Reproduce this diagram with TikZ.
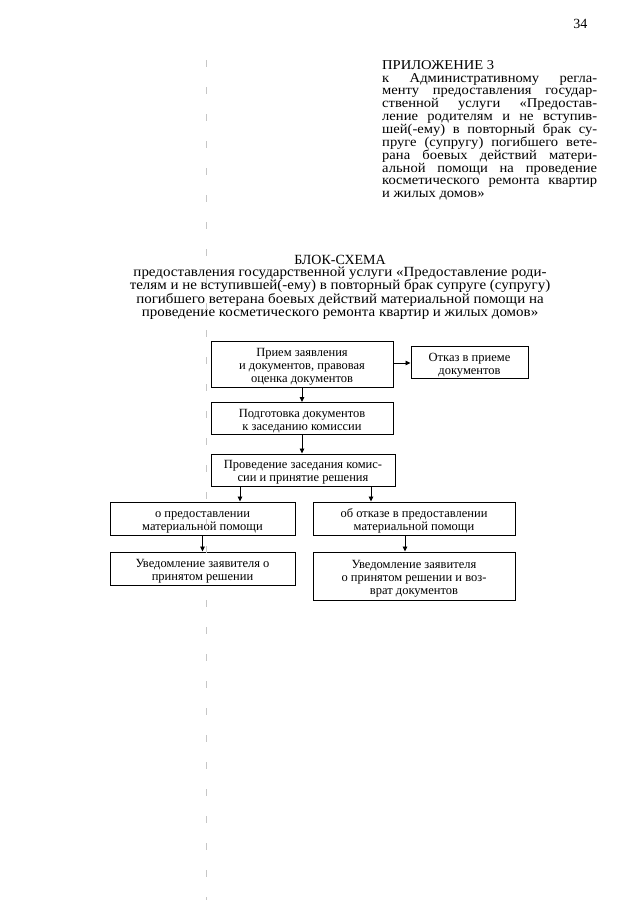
\documentclass[tikz,border=0pt]{standalone}
\usepackage{fontspec}
\setmainfont{Liberation Serif}
\newfontfamily\appfont[FakeStretch=1.08]{Liberation Serif}
\newfontfamily\subfont[FakeStretch=1.07]{Liberation Serif}
\usetikzlibrary{arrows.meta,calc}
\newcommand\topstrt{\rule{0pt}{11pt}}
\newcommand\boxtop{\rule{0pt}{13.5pt}}
\newcommand\boxbot{\rule[-3.5pt]{0pt}{3.5pt}}
\begin{document}
\lineskiplimit=-50pt\relax
\begin{tikzpicture}[x=1pt,y=-1pt,
  box/.style={draw,line width=1pt,align=center,inner sep=1pt,
    font=\fontsize{12.5}{13}\selectfont},
  arr/.style={line width=0.9pt,-{Triangle[length=5pt,width=4.5pt]}},
  scanmark/.style={gray!45,line width=0.6pt,dash pattern=on 7pt off 20pt}]
\useasboundingbox[fill=white] (0,0) rectangle (640,905);
% page number
\node[anchor=base east,font=\fontsize{14}{14}\selectfont] (pnum) at (591,28) {34};
% appendix header
\node[anchor=north west,inner sep=0pt,text width=215pt,align=justify,
      font=\appfont\fontsize{13.5}{12.85}\selectfont] (app) at (382,58)
{\topstrt ПРИЛОЖЕНИЕ 3\\
к Административному регла-\linebreak
менту предоставления государ-\linebreak
ственной услуги «Предостав-\linebreak
ление родителям и не вступив-\linebreak
шей(-ему) в повторный брак су-\linebreak
пруге (супругу) погибшего вете-\linebreak
рана боевых действий матери-\linebreak
альной помощи на проведение\linebreak
косметического ремонта квартир\linebreak
и жилых домов»};
% title
\node[anchor=base,inner sep=0pt,font=\fontsize{14}{14}\selectfont] (title) at (340,264.5) {БЛОК-СХЕМА};
\node[anchor=north,inner sep=0pt,align=center,
      font=\subfont\fontsize{14}{13.2}\selectfont] (subtitle) at (340,265.5)
{\topstrt предоставления государственной услуги «Предоставление роди-\\
телям и не вступившей(-ему) в повторный брак супруге (супругу)\\
погибшего ветерана боевых действий материальной помощи на\\
проведение косметического ремонта квартир и жилых домов»};
% boxes
\node[box,minimum width=182pt,minimum height=46pt] (b1) at (302,364)
 {\boxtop Прием заявления\\ и документов, правовая\\ оценка документов\boxbot};
\node[box,minimum width=117pt,minimum height=31pt] (b2) at (469.5,362.5)
 {\boxtop Отказ в приеме\\ документов\boxbot};
\node[box,minimum width=182pt,minimum height=31pt] (b3) at (302,418.5)
 {\boxtop Подготовка документов\\ к заседанию комиссии\boxbot};
\node[box,minimum width=184pt,minimum height=30pt] (b4) at (303,470)
 {\boxtop Проведение заседания комис-\\ сии и принятие решения\boxbot};
\node[box,minimum width=185pt,minimum height=33pt] (b5) at (202.5,518.5)
 {\boxtop о предоставлении\\ материальной помощи\boxbot};
\node[box,minimum width=202pt,minimum height=33pt] (b6) at (414,518.5)
 {\boxtop об отказе в предоставлении\\ материальной помощи\boxbot};
\node[box,minimum width=185pt,minimum height=33pt] (b7) at (202.5,568.5)
 {\boxtop Уведомление заявителя о\\ принятом решении\boxbot};
\node[box,minimum width=202pt,minimum height=48pt] (b8) at (414,576)
 {\boxtop Уведомление заявителя\\ о принятом решении и воз-\\ врат документов\boxbot};
% connectors
\coordinate (xl) at (240,0);
\coordinate (xr) at (371,0);
\coordinate (xr2) at (405,0);
\draw[arr] (b1.east |- 0,363) -- (b2.west |- 0,363);
\draw[arr] (b1.south) -- (b3.north -| b1.south);
\draw[arr] (b3.south) -- (b4.north -| b3.south);
\draw[arr] (b4.south -| xl) -- (b5.north -| xl);
\draw[arr] (b4.south -| xr) -- (b6.north -| xr);
\draw[arr] (b5.south) -- (b7.north);
\draw[arr] (b6.south -| xr2) -- (b8.north -| xr2);
% faint scan marks
\draw[scanmark] (206,60) -- (206,900);
\end{tikzpicture}
\end{document}
